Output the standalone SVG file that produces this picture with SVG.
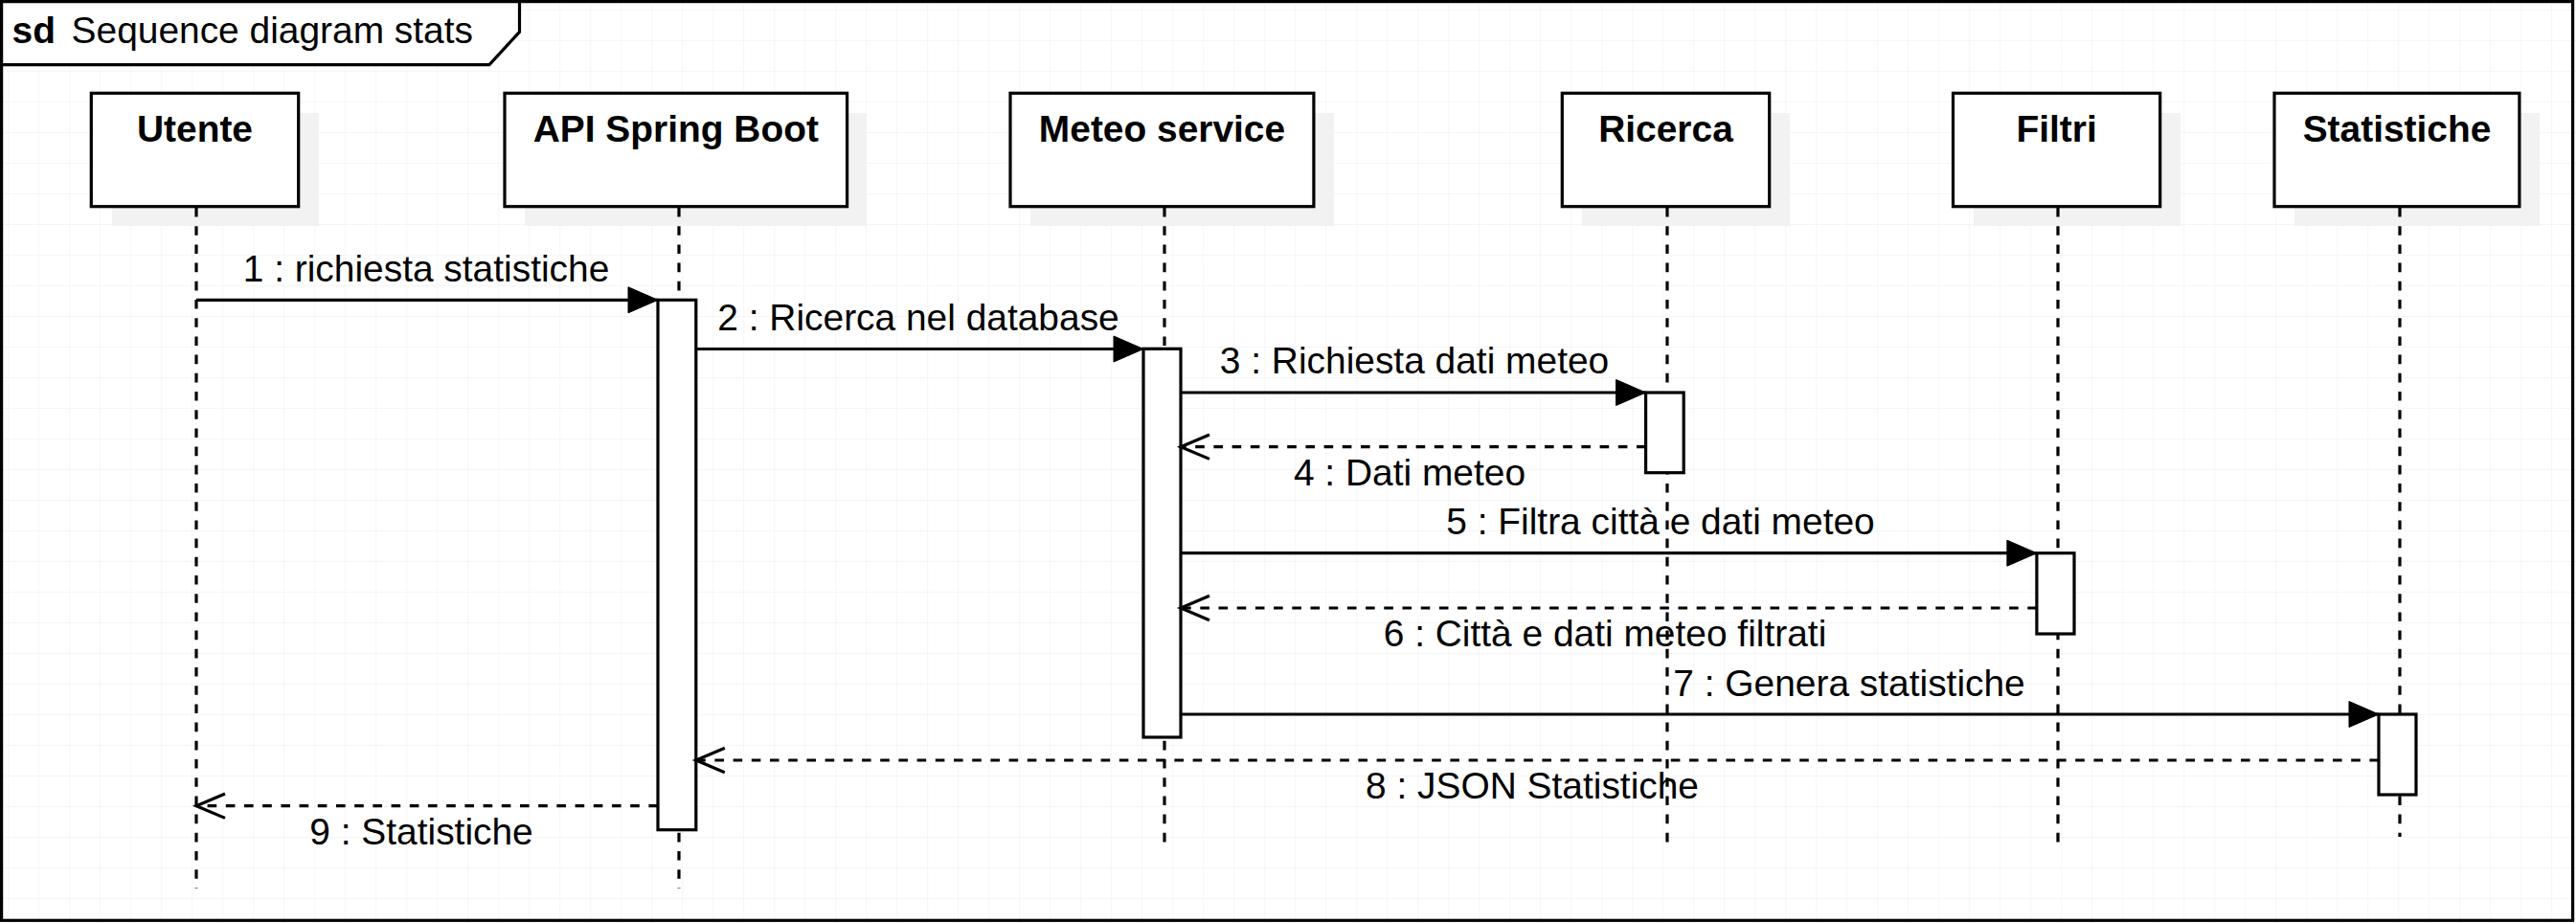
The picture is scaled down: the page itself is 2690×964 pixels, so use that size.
<svg xmlns="http://www.w3.org/2000/svg" width="2690" height="964" viewBox="0 0 2690 964">
<style>
text{font-family:"Liberation Sans",Arial,sans-serif;font-size:38.9px;fill:#000}
.b{font-weight:bold}
.m{text-anchor:middle}
.box{fill:#fff;stroke:#000;stroke-width:3.2}
.sh{fill:#f2f2f2}
.life{stroke:#000;stroke-width:3.2;stroke-dasharray:9.6 9.6;fill:none}
.act{fill:#fff;stroke:#000;stroke-width:3.2}
.call{stroke:#000;stroke-width:3.2;fill:none;marker-end:url(#filled)}
.ret{stroke:#000;stroke-width:3.2;fill:none;stroke-dasharray:9.6 9.6;marker-end:url(#open)}
</style>
<defs>
<pattern id="grid" patternUnits="userSpaceOnUse" x="8.2" y="10" width="32" height="32">
<path d="M32 0H0V32" fill="none" stroke="#ededed" stroke-width="1"/>
</pattern>
<marker id="filled" markerUnits="userSpaceOnUse" markerWidth="40" markerHeight="40" refX="31" refY="13.5" orient="auto" overflow="visible">
<path d="M0 0L31 13.5L0 27Z" fill="#000" stroke="#000" stroke-width="1"/>
</marker>
<marker id="open" markerUnits="userSpaceOnUse" markerWidth="40" markerHeight="40" refX="30" refY="12.7" orient="auto" overflow="visible">
<path d="M0 0L30 12.7L0 25.4" fill="none" stroke="#000" stroke-width="3.2"/>
</marker>
</defs>
<rect x="0" y="0" width="2690" height="964" fill="#fff"/>
<rect x="0" y="0" width="2690" height="964" fill="url(#grid)"/>
<g id="frame">
<rect x="1.6" y="1.6" width="2685" height="959.7" fill="none" stroke="#000" stroke-width="3.2"/>
<path d="M1.6 1.6H542.5V33.3L511 67.7H1.6Z" fill="#fff" stroke="#000" stroke-width="3.2"/>
<text x="12.6" y="45" class="b">sd</text>
<text x="74.6" y="45">Sequence diagram stats</text>
</g>
<g id="utente">
<rect class="sh" x="117" y="118" width="216" height="118"/>
<rect class="box" x="95.3" y="97.3" width="216.4" height="118.4"/>
<text x="203.5" y="147.7" class="b m">Utente</text>
<line class="life" x1="205" y1="217" x2="205" y2="928"/>
</g>
<g id="api">
<rect class="sh" x="548" y="118" width="357" height="118"/>
<rect class="box" x="527" y="97.3" width="357.6" height="118.4"/>
<text x="705.8" y="147.7" class="b m">API Spring Boot</text>
<line class="life" x1="709" y1="217" x2="709" y2="928"/>
<rect class="act" x="687" y="313.3" width="39.8" height="553.4"/>
</g>
<g id="meteo">
<rect class="sh" x="1076" y="118" width="317" height="118"/>
<rect class="box" x="1055" y="97.3" width="316.9" height="118.4"/>
<text x="1213.5" y="147.7" class="b m">Meteo service</text>
<line class="life" x1="1216" y1="217" x2="1216" y2="888"/>
<rect class="act" x="1194" y="364.3" width="39" height="405.7"/>
</g>
<g id="ricerca">
<rect class="sh" x="1652" y="118" width="217" height="118"/>
<rect class="box" x="1631.3" y="97.3" width="216.4" height="118.4"/>
<text x="1739.5" y="147.7" class="b m">Ricerca</text>
<line class="life" x1="1741" y1="217" x2="1741" y2="888"/>
<rect class="act" x="1718.6" y="410" width="39.6" height="83.7"/>
</g>
<g id="filtri">
<rect class="sh" x="2061" y="118" width="216" height="118"/>
<rect class="box" x="2039.5" y="97.3" width="216.2" height="118.4"/>
<text x="2147.6" y="147.7" class="b m">Filtri</text>
<line class="life" x1="2149" y1="217" x2="2149" y2="889"/>
<rect class="act" x="2126.9" y="577.7" width="39.1" height="84.3"/>
</g>
<g id="statistiche">
<rect class="sh" x="2396" y="118" width="256" height="118"/>
<rect class="box" x="2375" y="97.3" width="255.9" height="118.4"/>
<text x="2503" y="147.7" class="b m">Statistiche</text>
<line class="life" x1="2506" y1="217" x2="2506" y2="874"/>
<rect class="act" x="2484" y="746" width="39" height="84"/>
</g>
<g id="connectors">
<line class="call" x1="205" y1="313.3" x2="687" y2="313.3"/>
<line class="call" x1="726.8" y1="364.5" x2="1194" y2="364.5"/>
<line class="call" x1="1233" y1="410" x2="1718.6" y2="410"/>
<line class="ret" x1="1718.6" y1="466.7" x2="1233" y2="466.7"/>
<line class="call" x1="1233" y1="577.7" x2="2126.9" y2="577.7"/>
<line class="ret" x1="2126.9" y1="635" x2="1233" y2="635"/>
<line class="call" x1="1233" y1="746" x2="2484" y2="746"/>
<line class="ret" x1="2484" y1="794" x2="726.8" y2="794"/>
<line class="ret" x1="687" y1="841.7" x2="205" y2="841.7"/>
<text x="445" y="294" class="m">1 : richiesta statistiche</text>
<text x="959" y="345" class="m">2 : Ricerca nel database</text>
<text x="1477" y="390" class="m">3 : Richiesta dati meteo</text>
<text x="1472" y="507" class="m">4 : Dati meteo</text>
<text x="1734" y="558" class="m">5 : Filtra città e dati meteo</text>
<text x="1676" y="675" class="m">6 : Città e dati meteo filtrati</text>
<text x="1931" y="727" class="m">7 : Genera statistiche</text>
<text x="1600" y="834" class="m">8 : JSON Statistiche</text>
<text x="440" y="882" class="m">9 : Statistiche</text>
</g>
</svg>
